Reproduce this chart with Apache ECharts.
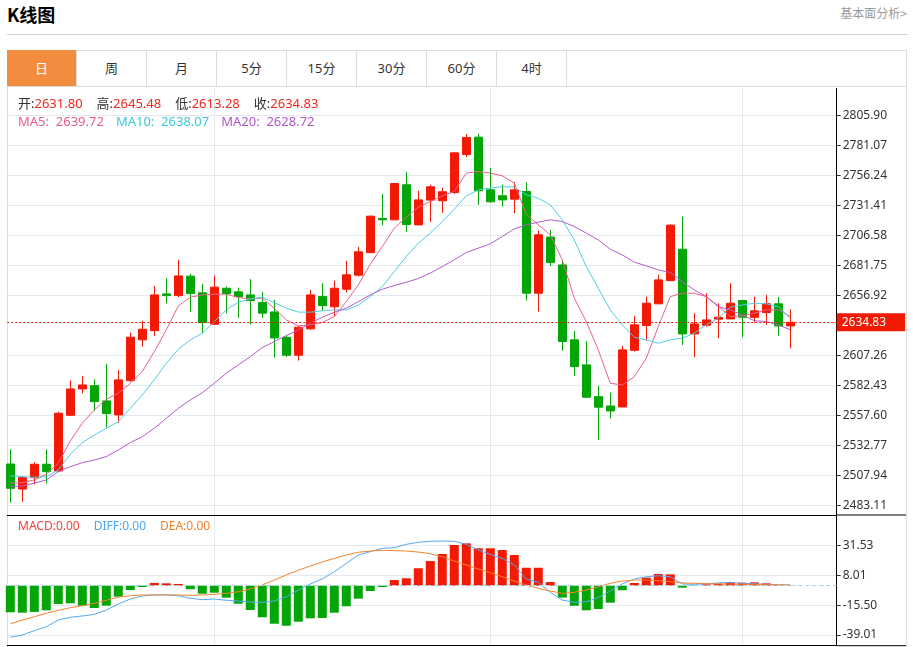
<!DOCTYPE html>
<html>
<head>
<meta charset="utf-8">
<title>K线图</title>
<script src="https://cdn.jsdelivr.net/npm/echarts@6/dist/echarts.min.js"></script>
<style>
	body { margin: 0; background: #fff; font-family: "Noto Sans", "Noto Sans CJK SC", sans-serif; }
	#page { position: relative; width: 913px; height: 647px; overflow: hidden; }
	.title { position: absolute; left: 7px; top: 1px; font-size: 18px; font-weight: bold; color: #000; line-height: 26px; font-family: "Noto Sans CJK SC", sans-serif; }
	.more { position: absolute; right: 6px; top: 4px; font-size: 12px; color: #999; line-height: 18px; font-family: "Noto Sans CJK SC", sans-serif; }
	.sep { position: absolute; left: 7px; top: 34px; width: 901px; height: 1px; background: #d2d2d2; }
	.panel { position: absolute; left: 7px; top: 50px; width: 898px; height: 600px; border: 1px solid #dcdcdc; border-bottom: none; }
	.tabs { position: absolute; left: 7px; top: 50px; width: 900px; height: 36px; border-bottom: 1px solid #dcdcdc; }
	.tab { float: left; width: 69px; height: 36px; line-height: 36px; text-align: center; font-size: 13px; color: #333; border-right: 1px solid #dcdcdc; }
	.tab.on { background: #f38c3e; color: #fff; }
	#main { position: absolute; left: 0; top: 88px; width: 913px; height: 559px; }
	.info { position: absolute; left: 18px; font-size: 13px; line-height: 18px; white-space: pre; z-index: 2; }
	.info span { margin-right: 14px; }
	#ma span { margin-right: 12px; }
	#macdInfo { font-size: 12px; }
</style>
</head>
<body>
<div id="page">
	<div class="title">K线图</div>
	<div class="more">基本面分析&gt;</div>
	<div class="sep"></div>
	<div class="panel"></div>
	<div class="tabs" id="tabs"></div>
	<div id="main"></div>
	<div class="info" id="ohlc" style="top:94px"></div>
	<div class="info" id="ma" style="top:112px"></div>
	<div class="info" id="macdInfo" style="top:517px"></div>
</div>
<script>
var tabNames = ['日', '周', '月', '5分', '15分', '30分', '60分', '4时'];

// daily candles, oldest first
var opens = [2517.6, 2496.9, 2506.3, 2517.4, 2511.8, 2557.9, 2579.7, 2582.4, 2569.8, 2558.2,
	2586.6, 2620.3, 2627.9, 2658.3, 2656.9, 2673.0, 2659.2, 2633.2, 2663.0, 2660.0,
	2657.5, 2651.1, 2643.4, 2622.2, 2607.6, 2629.4, 2656.1, 2647.6, 2662.2, 2673.8,
	2692.5, 2720.7, 2719.6, 2748.6, 2715.4, 2735.9, 2735.3, 2742.2, 2773.6, 2788.0,
	2744.4, 2739.5, 2736.7, 2743.0, 2658.9, 2705.3, 2682.3, 2620.3, 2599.6, 2573.3,
	2565.6, 2564.8, 2611.7, 2632.1, 2650.1, 2669.3, 2695.3, 2625.2, 2632.4, 2637.4,
	2637.6, 2652.8, 2639.0, 2642.9, 2650.1, 2631.80];
var closes = [2497.5, 2506.3, 2517.4, 2511.3, 2559.6, 2579.7, 2583.0, 2569.2, 2559.3, 2587.2,
	2622.5, 2629.1, 2657.5, 2656.9, 2673.2, 2658.6, 2634.6, 2663.9, 2658.6, 2656.1,
	2652.8, 2642.4, 2621.9, 2607.6, 2630.8, 2657.5, 2648.6, 2663.0, 2674.1, 2693.1,
	2722.6, 2719.6, 2749.6, 2715.7, 2736.1, 2746.9, 2742.8, 2775.0, 2787.7, 2743.6,
	2734.5, 2736.1, 2744.4, 2658.9, 2707.2, 2684.2, 2618.9, 2598.2, 2572.8, 2564.6,
	2561.5, 2612.0, 2632.7, 2650.6, 2669.9, 2715.2, 2625.2, 2633.5, 2636.8, 2639.0,
	2650.6, 2639.0, 2644.3, 2650.1, 2631.8, 2634.83];
var lows = [2485.6, 2486.4, 2500.8, 2501.6, 2510.8, 2557.4, 2576.1, 2561.5, 2547.7, 2551.8,
	2585.7, 2614.7, 2623.6, 2650.6, 2655.6, 2643.4, 2625.8, 2633.2, 2642.4, 2638.5,
	2632.9, 2638.5, 2605.6, 2606.2, 2603.1, 2628.5, 2644.5, 2639.5, 2659.4, 2672.7,
	2692.0, 2715.2, 2719.3, 2709.6, 2715.2, 2717.9, 2725.4, 2740.9, 2771.5, 2732.0,
	2733.9, 2730.6, 2725.1, 2652.8, 2643.7, 2681.3, 2611.2, 2590.5, 2572.8, 2537.5,
	2555.1, 2564.8, 2610.6, 2619.7, 2650.1, 2669.3, 2616.1, 2605.9, 2631.3, 2621.7,
	2637.4, 2622.5, 2634.6, 2632.7, 2623.8, 2613.28];
var highs = [2529.8, 2507.7, 2519.0, 2529.8, 2560.7, 2586.6, 2590.5, 2587.7, 2600.4, 2595.4,
	2626.3, 2636.0, 2665.0, 2671.3, 2686.5, 2674.9, 2666.6, 2673.5, 2664.4, 2663.5,
	2670.5, 2660.0, 2653.4, 2624.4, 2631.9, 2661.7, 2667.2, 2669.3, 2685.6, 2697.2,
	2723.1, 2741.1, 2750.0, 2759.1, 2743.6, 2748.6, 2746.3, 2775.6, 2790.5, 2790.8,
	2762.4, 2748.6, 2750.8, 2750.5, 2710.7, 2711.3, 2686.5, 2627.7, 2619.4, 2582.2,
	2576.6, 2615.5, 2640.1, 2656.1, 2674.1, 2716.0, 2722.3, 2642.4, 2658.9, 2650.6,
	2667.2, 2653.4, 2656.1, 2657.5, 2655.8, 2645.48];

var ma5 = [2501.7, 2502.1, 2504.4, 2509.1, 2518.2, 2536.7, 2551.3, 2562.3, 2571.2, 2576.1,
	2584.4, 2594.0, 2610.6, 2628.5, 2648.4, 2655.6, 2657.5, 2658.1, 2658.1, 2655.3,
	2654.2, 2654.8, 2646.5, 2636.8, 2632.0, 2632.7, 2634.6, 2639.5, 2651.9, 2665.8,
	2682.9, 2697.5, 2712.7, 2721.8, 2730.1, 2734.7, 2739.4, 2743.0, 2758.2, 2759.5,
	2758.2, 2756.0, 2750.0, 2724.3, 2715.4, 2707.2, 2686.5, 2654.8, 2635.4, 2612.0,
	2584.4, 2583.0, 2589.9, 2605.1, 2631.3, 2656.1, 2658.9, 2658.9, 2656.1, 2648.4,
	2639.5, 2640.1, 2642.4, 2645.1, 2645.1, 2639.72];
var ma10 = [2507.9, 2507.1, 2506.6, 2507.1, 2512.7, 2525.7, 2535.3, 2541.6, 2547.2, 2552.6,
	2563.7, 2574.7, 2587.2, 2601.0, 2612.5, 2620.3, 2625.8, 2635.4, 2645.1, 2651.5,
	2654.2, 2655.6, 2651.1, 2646.5, 2643.3, 2643.2, 2644.3, 2645.1, 2645.1, 2649.2,
	2656.1, 2664.4, 2676.8, 2689.2, 2700.3, 2708.6, 2718.2, 2728.4, 2739.4, 2744.4,
	2745.8, 2747.1, 2746.6, 2740.3, 2737.5, 2732.0, 2719.6, 2703.0, 2680.9, 2663.0,
	2645.1, 2632.7, 2622.5, 2620.3, 2617.5, 2620.3, 2621.7, 2625.8, 2632.7, 2638.2,
	2647.3, 2649.2, 2650.6, 2650.1, 2647.8, 2638.07];
var ma20 = [2498.8, 2499.4, 2501.7, 2504.4, 2511.3, 2515.4, 2518.7, 2520.9, 2523.7, 2529.2,
	2535.3, 2540.2, 2547.2, 2555.4, 2563.7, 2570.6, 2576.6, 2584.4, 2592.7, 2599.6,
	2606.4, 2613.9, 2618.9, 2623.8, 2628.5, 2634.1, 2639.0, 2643.2, 2646.5, 2651.9,
	2657.5, 2662.2, 2665.2, 2668.0, 2671.0, 2675.5, 2680.9, 2686.5, 2692.5, 2696.2,
	2699.7, 2705.8, 2712.1, 2715.4, 2717.7, 2719.6, 2718.2, 2714.0, 2708.6, 2703.0,
	2695.3, 2690.6, 2684.6, 2681.5, 2678.2, 2676.0, 2668.5, 2661.6, 2656.1, 2647.8,
	2645.1, 2640.9, 2636.2, 2635.4, 2632.7, 2628.72];

var macd = [-21.1, -21.4, -20.8, -19.5, -14.5, -14.0, -15.8, -17.7, -15.8, -8.7,
	-3.5, -1.1, 2.1, 1.8, 1.3, -2.9, -6.4, -5.6, -9.5, -14.3,
	-19.3, -25.0, -30.1, -31.7, -28.5, -25.8, -25.6, -21.4, -16.3, -10.3,
	-4.3, -1.1, 4.4, 5.8, 13.7, 19.4, 25.0, 32.1, 33.4, 29.5,
	29.5, 28.1, 24.2, 14.1, 14.1, 2.8, -9.5, -15.9, -19.5, -18.5,
	-13.5, -3.7, 2.1, 6.3, 9.2, 8.9, -1.6, -0.3, 1.0, 1.5,
	2.8, 2.3, 2.6, 1.8, 0.5, 0.2];
var diff = [-40.8, -39.0, -35.6, -32.4, -27.2, -25.0, -24.0, -22.7, -19.3, -14.5,
	-10.6, -8.2, -7.4, -7.2, -8.0, -10.0, -11.1, -10.6, -11.6, -12.2,
	-13.0, -13.2, -12.2, -8.8, -3.5, 1.3, 5.2, 11.0, 17.6, 24.2,
	26.8, 29.5, 29.9, 32.6, 34.2, 35.0, 35.2, 35.0, 32.6, 28.1,
	24.7, 21.5, 16.3, 5.2, 2.6, -5.3, -11.4, -13.2, -12.7, -9.5,
	-4.3, 1.3, 5.2, 7.0, 7.8, 7.0, 1.3, 1.0, 1.5, 2.1,
	2.6, 1.8, 1.5, 1.0, 0.5, 0.5];
var dea = [-30.1, -27.2, -24.6, -21.9, -19.5, -17.4, -15.9, -14.0, -11.6, -9.2,
	-8.0, -7.4, -7.4, -7.4, -7.4, -7.7, -7.4, -6.9, -6.1, -4.8,
	-2.7, 0.5, 4.4, 8.4, 12.1, 15.5, 18.6, 21.5, 24.2, 26.3,
	27.3, 27.9, 27.6, 27.3, 26.5, 25.2, 22.8, 19.4, 16.3, 13.1,
	10.2, 7.0, 3.6, 0.5, -2.1, -4.3, -6.1, -5.3, -3.5, -0.9,
	1.8, 3.6, 4.4, 4.4, 3.9, 3.1, 2.1, 1.8, 1.5, 1.3,
	1.3, 1.0, 1.0, 0.7, 0.7, 0.5];

// axis ticks as printed on the chart
var priceTicks = [2483.11, 2507.94, 2532.77, 2557.60, 2582.43, 2607.26, 2656.92,
	2681.75, 2706.58, 2731.41, 2756.24, 2781.07, 2805.90];
var macdTicks = [-39.01, -15.50, 8.01, 31.53];
var monthMarks = [17, 40, 61];

var RED = '#f21a05', GREEN = '#04a506', GRID = '#e3e9ef';
var C_MA5 = '#ec5f8e', C_MA10 = '#4fcde2', C_MA20 = '#b35bcd';
var C_DIFF = '#55a9f4', C_DEA = '#f5832a';

(function () {
	var html = '';
	for (var i = 0; i < tabNames.length; i++) {
		html += '<div class="tab' + (i === 0 ? ' on' : '') + '">' + tabNames[i] + '</div>';
	}
	document.getElementById('tabs').innerHTML = html;

	var last = opens.length - 1;
	var item = function (label, value, labelColor, valueColor) {
		return '<span><b style="font-weight:normal;color:' + labelColor + '">' + label +
			'</b><b style="font-weight:normal;color:' + valueColor + '">' + value + '</b></span>';
	};
	document.getElementById('ohlc').innerHTML =
		item('开:', opens[last].toFixed(2), '#333', '#f2271c') +
		item('高:', highs[last].toFixed(2), '#333', '#f2271c') +
		item('低:', lows[last].toFixed(2), '#333', '#f2271c') +
		item('收:', closes[last].toFixed(2), '#333', '#f2271c');
	document.getElementById('ma').innerHTML =
		item('MA5:  ', ma5[last].toFixed(2), '#ea5b8c', '#ea5b8c') +
		item('MA10:  ', ma10[last].toFixed(2), '#3ec6dc', '#3ec6dc') +
		item('MA20:  ', ma20[last].toFixed(2), '#ae57c8', '#ae57c8');
	document.getElementById('macdInfo').innerHTML =
		item('MACD:', '0.00', '#f2433d', '#f2433d') +
		item('DIFF:', '0.00', '#4aa8f0', '#4aa8f0') +
		item('DEA:', '0.00', '#f4802a', '#f4802a');
})();

var pair = function (arr) {
	return arr.map(function (v, i) { return [i, v]; });
};
var candles = opens.map(function (o, i) {
	return [i, o, closes[i], lows[i], highs[i]];
});
var fmt = function (v) { return v.toFixed(2); };

var xAxisBase = function (gridIndex) {
	return {
		type: 'value',
		gridIndex: gridIndex,
		min: -0.25,
		max: 68.87,
		axisLine: { show: true, onZero: false, lineStyle: { color: '#000' } },
		axisTick: { show: false, customValues: monthMarks },
		axisLabel: { show: false },
		splitLine: { show: true, lineStyle: { color: GRID } }
	};
};
var yAxisBase = function (gridIndex, min, max, ticks) {
	return {
		type: 'value',
		gridIndex: gridIndex,
		position: 'right',
		min: min,
		max: max,
		axisLine: { show: true, onZero: false, lineStyle: { color: '#000' } },
		axisTick: { show: true, length: 4, customValues: ticks, lineStyle: { color: '#333' } },
		axisLabel: { customValues: ticks, formatter: fmt, color: '#333', fontSize: 12, margin: 6 },
		splitLine: { show: true, lineStyle: { color: GRID } }
	};
};

var lineSeries = function (name, data, color, axisIndex) {
	return {
		name: name,
		type: 'line',
		xAxisIndex: axisIndex,
		yAxisIndex: axisIndex,
		data: pair(data),
		symbol: 'none',
		lineStyle: { width: 1, color: color },
		itemStyle: { color: color },
		z: 3
	};
};

var option = {
	animation: false,
	textStyle: { fontFamily: '"Noto Sans", "Noto Sans CJK SC", sans-serif' },
	grid: [
		{ left: 7.3, top: 0, width: 829.4, height: 427 },
		{ left: 7.3, top: 427, width: 829.4, height: 130.7 }
	],
	xAxis: [xAxisBase(0), xAxisBase(1)],
	yAxis: [
		yAxisBase(0, 2475.42, 2828.65, priceTicks),
		yAxisBase(1, -47.46, 55.77, macdTicks)
	],
	graphic: [
		{ type: 'line', shape: { x1: 836.7, y1: 427, x2: 906, y2: 427 }, style: { stroke: '#000', lineWidth: 1 } },
		{ type: 'line', shape: { x1: 836.7, y1: 557.7, x2: 906, y2: 557.7 }, style: { stroke: '#000', lineWidth: 1 } }
	],
	series: [
		{
			name: 'K',
			type: 'candlestick',
			xAxisIndex: 0,
			yAxisIndex: 0,
			data: candles,
			barWidth: 9,
			itemStyle: {
				color: RED,
				color0: GREEN,
				borderColor: RED,
				borderColor0: GREEN,
				borderWidth: 1
			},
			markLine: {
				silent: true,
				symbol: 'none',
				data: [{ yAxis: closes[closes.length - 1] }],
				lineStyle: { color: RED, type: [2, 2], width: 1 },
				label: {
					position: 'end',
					distance: 0,
					formatter: function (p) { return p.value.toFixed(2); },
					color: '#fff',
					fontSize: 12,
					backgroundColor: RED,
					padding: [3, 19, 3, 5]
				}
			}
		},
		lineSeries('MA5', ma5, C_MA5, 0),
		lineSeries('MA10', ma10, C_MA10, 0),
		lineSeries('MA20', ma20, C_MA20, 0),
		{
			name: 'MACD',
			type: 'bar',
			xAxisIndex: 1,
			yAxisIndex: 1,
			data: pair(macd),
			barWidth: 9,
			itemStyle: {
				color: function (p) { return p.value[1] >= 0 ? RED : GREEN; }
			},
			markLine: {
				silent: true,
				symbol: 'none',
				data: [{ yAxis: 0 }],
				lineStyle: { color: '#a6d7ee', type: [4, 3], width: 1 },
				label: { show: false }
			}
		},
		lineSeries('DIFF', diff, C_DIFF, 1),
		lineSeries('DEA', dea, C_DEA, 1)
	]
};

var chart = echarts.init(document.getElementById('main'));
chart.setOption(option);
</script>
</body>
</html>
